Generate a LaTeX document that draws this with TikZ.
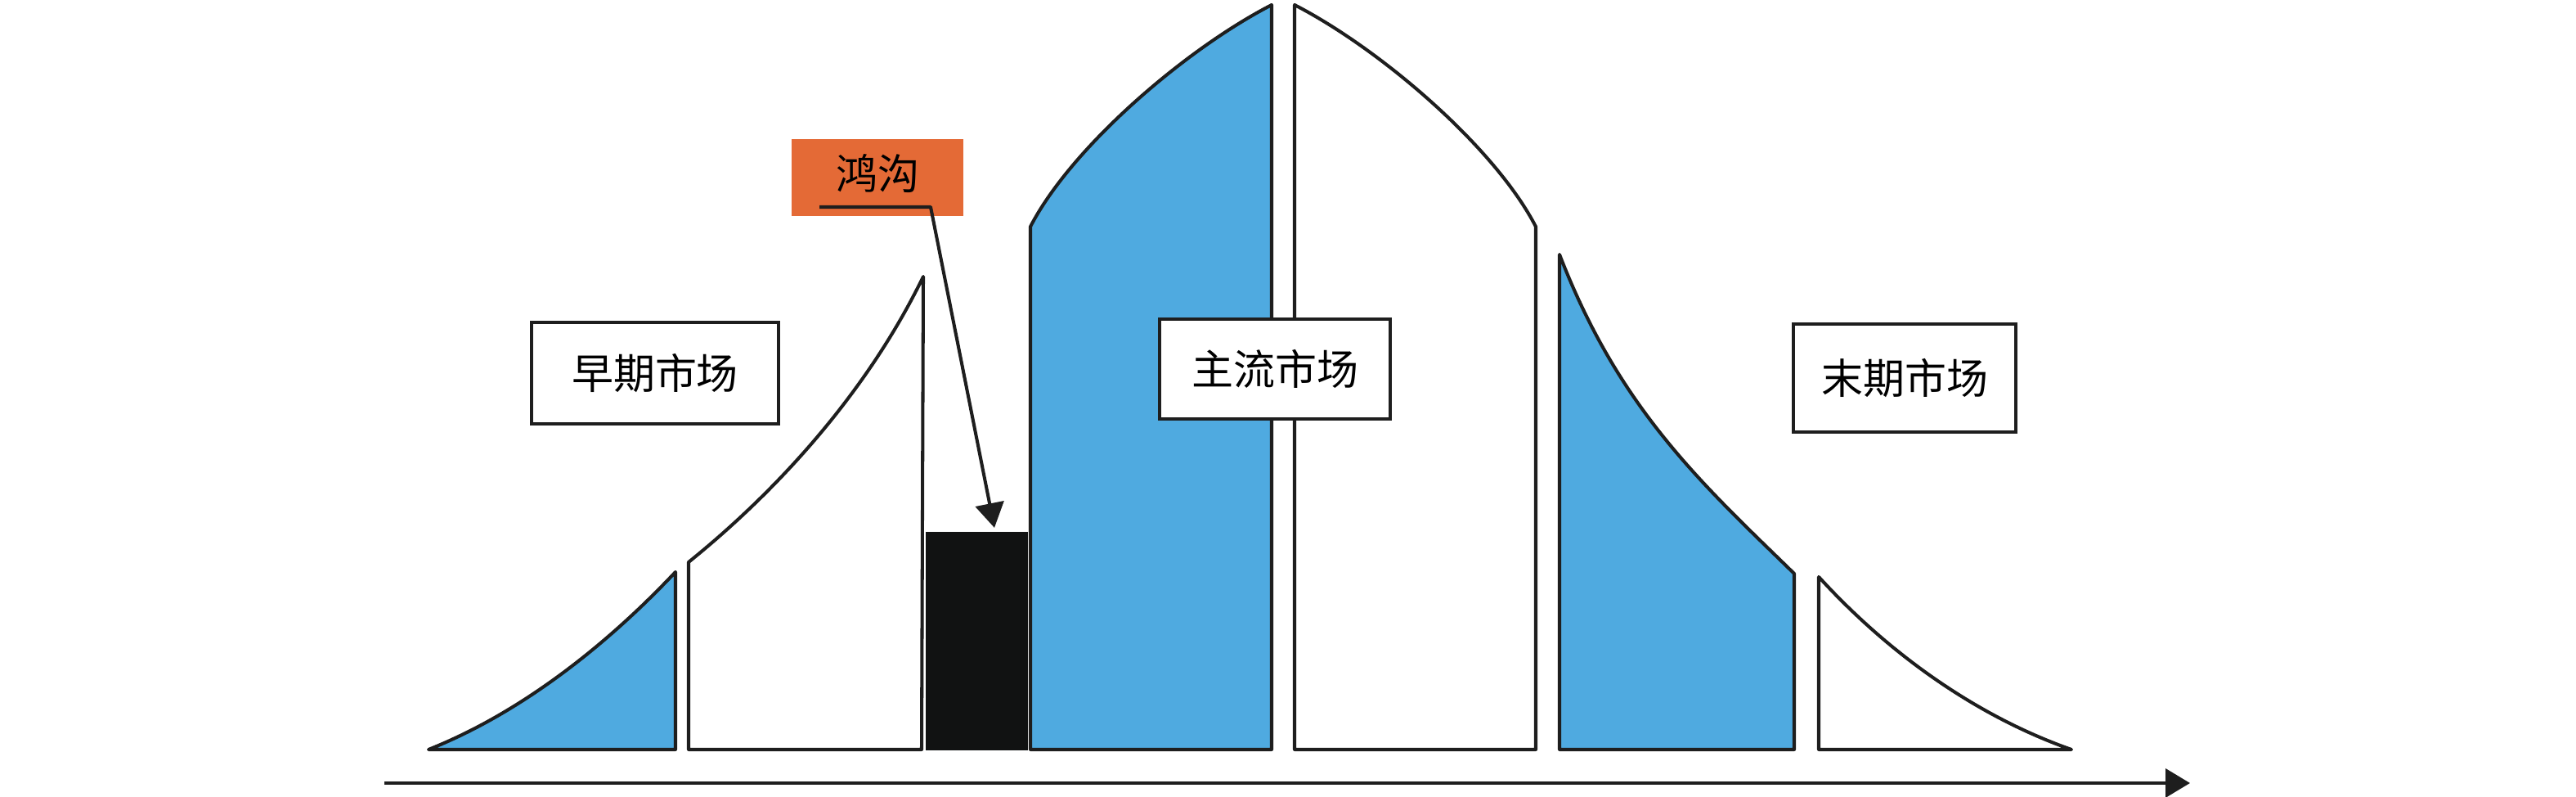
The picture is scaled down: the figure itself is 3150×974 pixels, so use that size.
\documentclass[tikz,border=0pt]{standalone}
\usepackage{fontspec}
\newfontfamily\cjk{Noto Sans CJK SC}
\usetikzlibrary{arrows.meta}
\definecolor{bl}{HTML}{4FAAE0}
\definecolor{org}{HTML}{E46A36}
\definecolor{blk}{HTML}{111212}
\definecolor{ln}{HTML}{1E1E1E}
\tikzset{
  seg/.style={draw=ln, line width=1.15pt, line join=round},
  lbl/.style={draw=ln, line width=1.15pt, fill=white, inner sep=0pt,
    font=\cjk\fontsize{14.5pt}{16pt}\selectfont},
  tip/.style={-{Triangle[length=0.3cm,width=0.35cm]}}
}
\begin{document}
\begin{tikzpicture}[x=0.01cm,y=-0.01cm]
\useasboundingbox (0,0) rectangle (3150,974);
% bars of the curve
\draw[seg, fill=bl] (524,916) .. controls (640,870) and (745,785) .. (826,699) -- (826,916) -- cycle;
\draw[seg, fill=white] (842,916) -- (842,687) .. controls (950,600) and (1060,480) .. (1129,338) -- (1127,916) -- cycle;
\node[fill=blk, minimum width=1.25cm, minimum height=2.67cm, inner sep=0pt, anchor=north west] (gap) at (1131,649) {};
\draw[seg, fill=bl] (1260,916) -- (1260,277) .. controls (1310,180) and (1450,60) .. (1555,6) -- (1555,916) -- cycle;
\draw[seg, fill=white] (1583,916) -- (1583,6) .. controls (1688,60) and (1828,180) .. (1878,277) -- (1878,916) -- cycle;
\draw[seg, fill=bl] (1907,916) -- (1907,311) .. controls (1980,500) and (2080,590) .. (2194,701) -- (2194,916) -- cycle;
\draw[seg, fill=white] (2224,916) -- (2224,705) .. controls (2320,810) and (2430,880) .. (2533,916) -- cycle;
% labels
\node[lbl, minimum width=3.01cm, minimum height=1.24cm] (early) at (801,456) {早期市场};
\node[lbl, minimum width=2.82cm, minimum height=1.22cm] (main) at (1559,451) {主流市场};
\node[lbl, minimum width=2.71cm, minimum height=1.32cm] (late) at (2329,462) {末期市场};
\node[fill=org, inner sep=0pt, minimum width=2.10cm, minimum height=0.94cm,
  font=\cjk\fontsize{14.5pt}{16pt}\selectfont] (chasm) at (1073,217) {\raisebox{0.5ex}{鸿沟}};
% chasm pointer
\coordinate (u1) at (1002,253);
\coordinate (u2) at (1138,253);
\coordinate (gaptip) at (1216,645);
\draw[seg, tip] (u1) -- (u2) -- (gaptip);
% axis
\coordinate (ax0) at (470,957);
\coordinate (ax1) at (2678,957);
\draw[seg, tip] (ax0) -- (ax1);
\end{tikzpicture}
\end{document}
